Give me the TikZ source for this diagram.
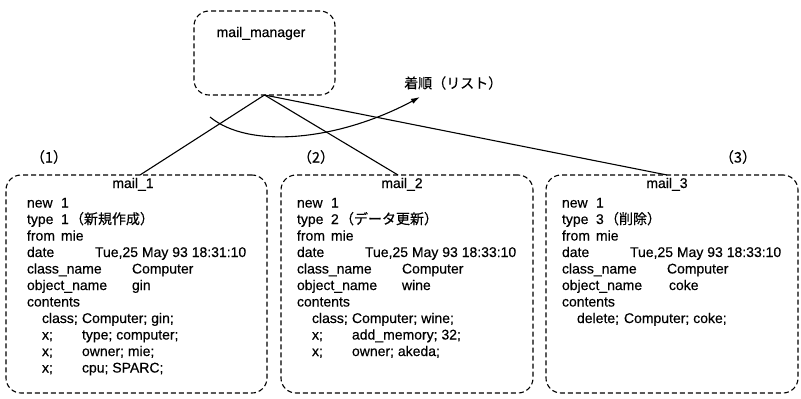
\documentclass[tikz,border=0pt]{standalone}
\usepackage{fontspec}
\setmainfont{Liberation Sans}[FakeBold=0.4]
\newfontfamily\jp{Noto Sans CJK JP}[FakeBold=0.4]
\usetikzlibrary{arrows.meta}
\tikzset{
  txt/.style={anchor=base west, inner sep=0pt, outer sep=0pt, font=\fontsize{14}{16}\selectfont},
  ttl/.style={anchor=base, inner sep=0pt, outer sep=0pt, font=\fontsize{14}{16}\selectfont},
  num/.style={anchor=center, inner sep=0pt, font=\jp\fontsize{14.5}{16}\selectfont},
  dbox/.style={draw, dash pattern=on 5pt off 3pt, rounded corners=15pt, line width=1.1pt,
    inner sep=0pt, outer sep=0pt},
  link/.style={line width=1.1pt},
}
\newcommand\kw[2]{\makebox[#1][l]{#2}}
\begin{document}
\begin{tikzpicture}[x=1pt,y=-1pt]
\useasboundingbox (0,0) rectangle (801,399);
% manager
\node[dbox, anchor=north west, minimum width=141pt, minimum height=84pt] (mgr) at (194,11) {};
\node[ttl] (mgrt) at (261,37) {mail\_manager};
% list label and curve
\node[anchor=west, inner sep=0pt, font=\jp\fontsize{14}{16}\selectfont] (lst) at (404,83) {着順（リスト）};
\coordinate (cs) at (210,117);
\coordinate (ce) at (420,97);
\draw[link, -{Latex[length=9pt,width=5.5pt]}] (cs) .. controls (250,150) and (340,140) .. (ce);
% mail boxes
\node[dbox, anchor=north west, minimum width=261pt, minimum height=218pt] (m1) at (6,175) {};
\node[dbox, anchor=north west, minimum width=252pt, minimum height=218pt] (m2) at (281,175) {};
\node[dbox, anchor=north west, minimum width=252pt, minimum height=218pt] (m3) at (546,175) {};
% connectors
\draw[link] (mgr.south) -- ([xshift=3.5pt]m1.north);
\draw[link] (mgr.south) -- ([xshift=-9pt]m2.north);
\draw[link] (mgr.south) -- ([xshift=-5pt]m3.north);
% numbers
\node[num] (n1) at (49,157) {（1）};
\node[num] (n2) at (316,157) {（2）};
\node[num] (n3) at (738,157) {（3）};
% titles
\node[ttl] (t1) at (133,188) {mail\_1};
\node[ttl] (t2) at (402,188) {mail\_2};
\node[ttl] (t3) at (667,188) {mail\_3};
% mail_1 body
\node[txt] (a1) at (27,207.5) {\kw{34pt}{new}1};
\node[txt] (a2) at (27,224) {\kw{43pt}{\kw{34pt}{type}1}{\jp （新規作成）}};
\node[txt] (a3) at (27,240.5) {\kw{34pt}{from}mie};
\node[txt] (a4) at (27,257) {\kw{68pt}{date}Tue,25 May 93 18:31:10};
\node[txt] (a5) at (27,273.5) {\kw{105pt}{class\_name}Computer};
\node[txt] (a6) at (27,290) {\kw{105pt}{object\_name}gin};
\node[txt] (a7) at (27,306.5) {contents};
\node[txt] (a8) at (42,323) {\kw{40pt}{class;}Computer; gin;};
\node[txt] (a9) at (42,339.5) {\kw{40pt}{x;}type; computer;};
\node[txt] (a10) at (42,356) {\kw{40pt}{x;}owner; mie;};
\node[txt] (a11) at (42,372.5) {\kw{40pt}{x;}cpu; SPARC;};
% mail_2 body
\node[txt] (b1) at (297,207.5) {\kw{34pt}{new}1};
\node[txt] (b2) at (297,224) {\kw{43pt}{\kw{34pt}{type}2}{\jp （データ更新）}};
\node[txt] (b3) at (297,240.5) {\kw{34pt}{from}mie};
\node[txt] (b4) at (297,257) {\kw{68pt}{date}Tue,25 May 93 18:33:10};
\node[txt] (b5) at (297,273.5) {\kw{105pt}{class\_name}Computer};
\node[txt] (b6) at (297,290) {\kw{105pt}{object\_name}wine};
\node[txt] (b7) at (297,306.5) {contents};
\node[txt] (b8) at (312,323) {\kw{40pt}{class;}Computer; wine;};
\node[txt] (b9) at (312,339.5) {\kw{40pt}{x;}add\_memory; 32;};
\node[txt] (b10) at (312,356) {\kw{40pt}{x;}owner; akeda;};
% mail_3 body
\node[txt] (c1) at (562,207.5) {\kw{34pt}{new}1};
\node[txt] (c2) at (562,224) {\kw{43pt}{\kw{34pt}{type}3}{\jp （削除）}};
\node[txt] (c3) at (562,240.5) {\kw{34pt}{from}mie};
\node[txt] (c4) at (562,257) {\kw{68pt}{date}Tue,25 May 93 18:33:10};
\node[txt] (c5) at (562,273.5) {\kw{105pt}{class\_name}Computer};
\node[txt] (c6) at (562,290) {\kw{107pt}{object\_name}coke};
\node[txt] (c7) at (562,306.5) {contents};
\node[txt] (c8) at (577,323) {\kw{47pt}{delete;}Computer; coke;};
\end{tikzpicture}
\end{document}
